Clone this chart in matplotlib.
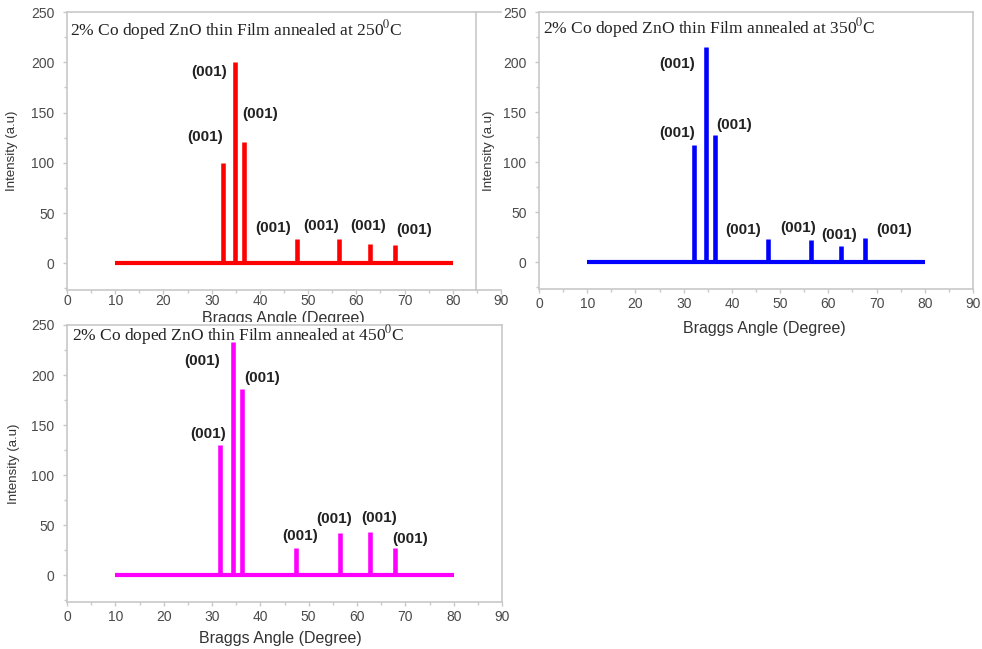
import matplotlib

matplotlib.use("Agg")

import matplotlib.pyplot as plt
from matplotlib.lines import Line2D
from matplotlib.patches import Rectangle
from matplotlib.ticker import MultipleLocator

plt.rcParams["font.family"] = ["Liberation Sans", "DejaVu Sans"]
plt.rcParams["mathtext.fontset"] = "stix"

# baseline of the scan
SCAN_START = 10
SCAN_END = 80

# peak positions (2 theta) and intensities for each annealing temperature
PEAKS_250 = [32.3, 34.9, 36.8, 47.6, 56.5, 62.8, 68.0]
HEIGHTS_250 = [100, 200, 121, 24.5, 24, 19.5, 18]

PEAKS_350 = [32.1, 34.7, 36.6, 47.4, 56.4, 62.6, 67.7]
HEIGHTS_350 = [117, 215, 127, 23, 22.5, 16, 24]

PEAKS_450 = [31.7, 34.35, 36.3, 47.3, 56.5, 62.7, 67.8]
HEIGHTS_450 = [130.5, 233, 186, 27, 42, 43.5, 27.5]

PEAK_LABEL = "(001)"
TITLE = "2% Co doped ZnO thin Film annealed at {}$^{{0}}$C"

# label placement relative to each peak top (data units)
OFFSETS_250 = [(-3.6, 25.6), (-5.5, -10), (3.2, 28), (-4.8, 11), (-3.9, 13.4), (-0.3, 17.5), (3.9, 15)]
OFFSETS_350 = [(-3.4, 12), (-6.0, -17), (3.9, 10), (-5.1, 9), (-2.7, 12.2), (-0.3, 11.4), (5.9, 8)]
OFFSETS_450 = [(-2.5, 10.5), (-6.35, -19), (4.0, 11.5), (0.9, 12), (-1.2, 14), (1.9, 13.5), (3.1, 8.5)]

SPINE = "#c8c8c8"
TICK_TEXT = "#4a4a4a"
W, H = 982, 649


def _rect(left, top, right, bottom):
    return [left / W, 1 - bottom / H, (right - left) / W, (bottom - top) / H]


def _panel(ax, peaks, heights, offsets, color, temp, title_xy, ylabel_x, xlabel_xy, xpad):
    ax.hlines(0, SCAN_START, SCAN_END, color=color, linewidth=3)
    ax.vlines(peaks, 0, heights, color=color, linewidth=3.3)
    for x, h, (dx, dy) in zip(peaks, heights, offsets):
        ax.text(x + dx, h + dy, PEAK_LABEL, ha="center", va="center",
                fontsize=11, fontweight="bold", color="#222222")
    ax.text(title_xy[0], title_xy[1], TITLE.format(temp), transform=ax.transAxes,
            ha="left", va="center", fontsize=12.5, family="Liberation Serif", color="#222222")

    ax.set_xlim(0, 90)
    ax.set_ylim(-26.5, 250)
    ax.xaxis.set_major_locator(MultipleLocator(10))
    ax.xaxis.set_minor_locator(MultipleLocator(5))
    ax.yaxis.set_major_locator(MultipleLocator(50))
    ax.yaxis.set_minor_locator(MultipleLocator(25))
    ax.tick_params(which="both", direction="out", color=SPINE, width=1)
    ax.tick_params(which="major", length=3, labelsize=10, labelcolor=TICK_TEXT)
    ax.tick_params(axis="y", which="major", pad=6)
    ax.tick_params(axis="x", which="major", pad=xpad)
    ax.tick_params(which="minor", length=2.5)
    for spine in ax.spines.values():
        spine.set_color(SPINE)
        spine.set_linewidth(1.2)

    ax.set_ylabel("Intensity (a.u)", fontsize=9.5, color="#333333")
    ax.set_xlabel("Braggs Angle (Degree)", fontsize=11.5, color="#333333")
    ax.yaxis.set_label_coords(ylabel_x, 0.5)
    ax.xaxis.set_label_coords(*xlabel_xy)


fig = plt.figure(figsize=(W / 100, H / 100), dpi=100)

ax1 = fig.add_axes(_rect(67, 12, 501, 290))
ax2 = fig.add_axes(_rect(539, 12, 973, 289))
ax3 = fig.add_axes(_rect(67, 325, 502, 602))

_panel(ax1, PEAKS_250, HEIGHTS_250, OFFSETS_250, "#ff0000", 250, (0.007, 0.935), -0.113, (0.498, -0.074), 0)
_panel(ax2, PEAKS_350, HEIGHTS_350, OFFSETS_350, "#0000ff", 350, (0.009, 0.942), -0.101, (0.52, -0.117), 2.5)
_panel(ax3, PEAKS_450, HEIGHTS_450, OFFSETS_450, "#ff00ff", 450, (0.012, 0.964), -0.108, (0.49, -0.106), 3)

# first panel is a cropped image: no right spine, a border line a bit inside
ax1.spines["right"].set_visible(False)
fig.add_artist(Line2D([476 / W, 476 / W], [1 - 12 / H, 1 - 290 / H], color=SPINE, linewidth=1.2))

# the lower image sits on top of the first panel's axis title
ax1.set_zorder(0)
fig.add_artist(Rectangle((0, 0), 520 / W, 1 - 322 / H, transform=fig.transFigure,
                         facecolor="white", edgecolor="none", zorder=0.5))
ax3.set_zorder(1)

fig.savefig("out.png", dpi=100)
